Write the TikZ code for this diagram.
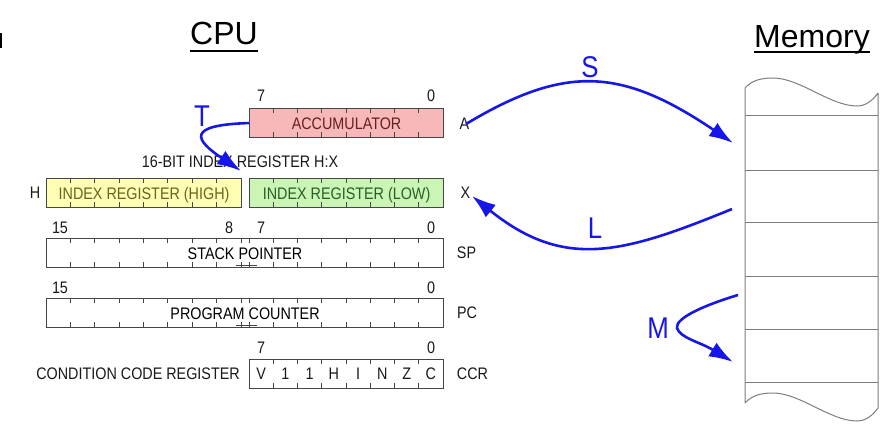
\documentclass[tikz,border=0pt]{standalone}
\usepackage{fontspec}
\setmainfont{Liberation Sans}[FakeStretch=0.86]
\newfontfamily\titlefont{Liberation Sans}
\usetikzlibrary{arrows.meta,calc}

\definecolor{flowblue}{RGB}{22,22,232}
\definecolor{accfill}{RGB}{246,184,184}
\definecolor{acctext}{RGB}{105,30,30}
\definecolor{hifill}{RGB}{255,255,180}
\definecolor{hitext}{RGB}{105,100,30}
\definecolor{lofill}{RGB}{202,245,180}
\definecolor{lotext}{RGB}{40,95,40}
\definecolor{boxline}{RGB}{70,70,70}
\definecolor{memline}{RGB}{125,125,125}

\begin{document}
\begin{tikzpicture}[x=1pt,y=-1pt,
        reg/.style={draw=boxline,line width=1.1pt,inner sep=0pt,minimum height=29pt,
            anchor=north west,text height=12pt,text depth=0pt,
            font=\fontsize{16.7}{18}\selectfont},
        tick/.style={draw=boxline,line width=0.8pt},
        lbl/.style={text=black!90,inner sep=0pt,anchor=base,font=\fontsize{16.7}{18}\selectfont},
        title/.style={inner sep=0pt,anchor=base,font=\titlefont\fontsize{32}{36}\selectfont},
        flow/.style={draw=flowblue,line width=2.6pt,-{Latex[length=24pt,width=16pt]}},
        flowlbl/.style={text=flowblue,inner sep=0pt,anchor=base,font=\fontsize{30}{34}\selectfont}]
    \useasboundingbox (0,0) rectangle (896,433);
    \fill (0,33) rectangle (1.7,48);

    % titles
    \node[title] (cpu) at (224,45) {CPU};
    \node[title] (memory) at (812,48) {Memory};
    \draw[line width=1.6pt] ($(cpu.base west)+(0,6)$) -- ($(cpu.base east)+(0,6)$);
    \draw[line width=1.6pt] ($(memory.base west)+(0,4)$) -- ($(memory.base east)+(0,4)$);

    % registers
    \node[reg,fill=accfill,text=acctext,minimum width=194pt] (acc) at (249,108) {ACCUMULATOR};
    \node[reg,fill=hifill,text=hitext,minimum width=195pt] (idxh) at (46,178) {INDEX REGISTER (HIGH)};
    \node[reg,fill=lofill,text=lotext,minimum width=194pt] (idxl) at (249,178) {INDEX REGISTER (LOW)};
    \node[reg,minimum width=397pt] (sp) at (46,238) {STACK POINTER};
    \node[reg,minimum width=397pt] (pc) at (46,298) {PROGRAM COUNTER};
    \node[reg,minimum width=194pt] (ccr) at (249,359) {};

    % bit ticks
    \foreach \y in {108,178,359} {
        \foreach \i in {1,...,7}
            \draw[tick] (249+\i*24.25,\y) -- ++(0,5) (249+\i*24.25,\y+29) -- ++(0,-5);
    }
    \foreach \i in {1,...,7}
        \draw[tick] (46+\i*24.375,178) -- ++(0,5) (46+\i*24.375,207) -- ++(0,-5);
    \foreach \y in {238,298} {
        \foreach \i in {1,...,8}
            \draw[tick] (46+\i*24.375,\y) -- ++(0,5) (46+\i*24.375,\y+29) -- ++(0,-5);
        \foreach \i in {0,...,7}
            \draw[tick] (249+\i*24.25,\y) -- ++(0,5) (249+\i*24.25,\y+29) -- ++(0,-5);
        \draw[tick] (236,\y+27) -- (257,\y+27);
    }
    \foreach \b [count=\i] in {V,1,1,H,I,N,Z,C}
        \node[lbl] (ccr\i) at (249+\i*24.25-12.1,379) {\b};

    % bit numbers
    \node[lbl] (accHi) at (261,101.5) {7};
    \node[lbl] (accLo) at (431,101.5) {0};
    \node[lbl] (spHi) at (60,233) {15};
    \node[lbl] (spMidH) at (229,233) {8};
    \node[lbl] (spMidL) at (261,233) {7};
    \node[lbl] (spLo) at (431,233) {0};
    \node[lbl] (pcHi) at (60,293) {15};
    \node[lbl] (pcLo) at (431,293) {0};
    \node[lbl] (ccrHi) at (261,353) {7};
    \node[lbl] (ccrLo) at (431,353) {0};

    % register names
    \node[lbl] (lblA) at (464.5,129) {A};
    \node[lbl] (lblX) at (465.5,198) {X};
    \node[lbl] (lblH) at (35,198) {H};
    \node[lbl] (lblSP) at (466.5,258) {SP};
    \node[lbl] (lblPC) at (467,318) {PC};
    \node[lbl] (lblCCR) at (472.5,379) {CCR};
    \node[lbl] (lblHX) at (240,167) {16-BIT INDEX REGISTER H:X};
    \node[lbl,anchor=base east] (lblCond) at (240,379) {CONDITION CODE REGISTER};

    % memory
    \draw[memline,line width=1pt]
        (745,88) .. controls (752,80) and (762,78) .. (773,78)
            .. controls (800,78) and (830,106) .. (857,106)
            .. controls (866,106) and (873,100) .. (878,93)
        (745,403) .. controls (752,395) and (762,393) .. (773,393)
            .. controls (800,393) and (830,421) .. (857,421)
            .. controls (866,421) and (873,415) .. (878,408)
        (745,88) -- (745,403) (878,93) -- (878,408);
    \foreach \y in {116,170,222,276,329,382}
        \draw[memline,line width=1pt] (745,\y) -- (878,\y);

    % transfers
    \coordinate (accOut) at (466,124);
    \coordinate (memS) at (733,143);
    \coordinate (memL) at (732,209);
    \coordinate (idxIn) at (472,196);
    \coordinate (memM1) at (738,295);
    \coordinate (memM2) at (733,362);
    \coordinate (tEnd) at (241,171);

    \draw[flow] (accOut) .. controls (566,64) and (622,68) .. (memS);
    \draw[flow] (memL) .. controls (622,254) and (564,270) .. (idxIn);
    \draw[flow] (memM1) .. controls (705,305) and (675,318) .. (677,328)
        .. controls (680,338) and (700,342) .. (memM2);
    \draw[flow] (acc.west) .. controls (185,125) and (195,140) .. (tEnd);

    \node[flowlbl] (S) at (590,78) {S};
    \node[flowlbl] (L) at (595,238) {L};
    \node[flowlbl] (M) at (658,338) {M};
    \node[flowlbl] (T) at (202,127) {T};
\end{tikzpicture}
\end{document}
